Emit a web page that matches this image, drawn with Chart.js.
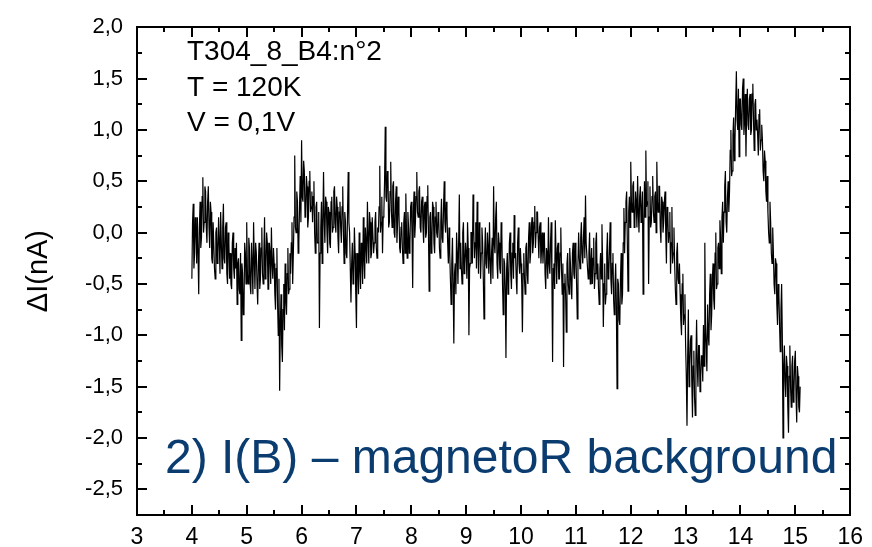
<!DOCTYPE html>
<html>
<head>
<meta charset="utf-8">
<title>ΔI(B) – magnetoR background</title>
<script src="https://cdn.jsdelivr.net/npm/chart.js@4.4.1/dist/chart.umd.min.js"></script>
<style>
  html, body { margin: 0; padding: 0; background: #fff; }
  canvas { display: block; }
</style>
</head>
<body>
<canvas id="chart" width="872" height="547"></canvas>
<script>
// Magnetic field sweep: B starts at 4.0 T and is sampled every 0.0125 T
const fieldStart = 4.0;
const fieldStep = 0.0125;

// ΔI (nA), one array per tesla of the sweep (80 samples each, 8 per 0.1 T)
const dI_B4 = [
  -0.45, 0.1, 0.28, -0.35, -0.2, 0.15, 0.05, -0.3,
  0.15, -0.2, -0.6, 0.05, 0.3, -0.15, -0.05, 0.35,
  0.54, 0.0, 0.1, 0.45, 0.4, 0.05, -0.1, 0.3,
  0.45, 0.05, -0.15, 0.3, 0.2, -0.25, -0.3, 0.1,
  0.1, -0.35, -0.45, 0.0, 0.05, -0.3, -0.2, 0.15,
  -0.1, -0.4, 0.2, -0.1, -0.35, 0.05, 0.28, -0.25,
  -0.3, 0.05, 0.1, -0.4, -0.5, 0.0, -0.1, -0.45,
  -0.2, -0.5, -0.55, -0.1, 0.0, -0.35, -0.45, -0.15,
  -0.35, -0.1, -0.7, -0.3, -0.25, -0.55, -0.6, -0.2,
  -1.05, -0.3, -0.4, -0.8, -0.75, -0.1, -0.2, -0.5
];
const dI_B5 = [
  0.1, -0.4, -0.5, -0.05, -0.15, -0.5, -0.6, -0.1,
  -0.3, -0.6, 0.1, -0.25, -0.55, -0.1, -0.2, -0.5,
  -0.7, -0.3, -0.1, -0.55, -0.45, -0.15, 0.05, -0.4,
  -0.5, -0.2, 0.15, -0.45, -0.35, 0.0, -0.1, -0.55,
  -0.55, -0.1, -0.2, -0.5, 0.05, -0.3, -0.45, -0.15,
  -0.3, -0.6, -0.75, -0.35, -0.15, -0.7, -1.0, -0.45,
  -1.54, -0.9, -0.6, -1.1, -1.26, -0.75, -0.5, -0.95,
  -0.3, -0.65, -0.8, -0.4, -0.15, -0.6, -0.55, -0.2,
  -0.4, -0.1, 0.1, -0.5, -0.2, 0.15, 0.75, 0.05,
  0.0, 0.4, 0.3, -0.2, -0.1, 0.25, 0.55, 0.1
];
const dI_B6 = [
  0.9, 0.35, 0.3, 0.7, 0.6, 0.15, 0.2, 0.55,
  0.45, 0.05, 0.15, 0.5, 0.6, 0.2, 0.25, 0.4,
  0.1, 0.35, 0.5, 0.0, -0.2, 0.25, 0.3, -0.1,
  -0.1, 0.2, -0.93, -0.2, 0.05, 0.3, -0.3, 0.1,
  0.59, 0.1, -0.1, 0.35, 0.3, 0.0, -0.2, 0.25,
  0.2, -0.1, -0.15, 0.3, 0.35, 0.0, 0.05, 0.4,
  0.45, 0.1, 0.0, 0.35, 0.25, -0.05, -0.2, 0.2,
  0.3, 0.05, -0.1, 0.25, 0.45, 0.0, -0.3, 0.2,
  0.1, -0.2, -0.25, 0.2, 0.59, 0.1, 0.0, -0.35,
  -0.68, -0.3, -0.1, -0.5, -0.4, 0.05, -0.2, -0.6
];
const dI_B7 = [
  -0.93, -0.2, -0.3, -0.6, 0.0, -0.35, -0.55, -0.1,
  -0.2, -0.5, 0.15, -0.25, -0.45, 0.05, -0.1, -0.3,
  0.3, -0.05, -0.3, 0.2, 0.1, -0.25, -0.2, 0.15,
  0.15, -0.2, -0.1, 0.1, 0.2, -0.15, -0.25, 0.05,
  0.0, 0.25, 0.65, 0.0, 0.1, 0.35, -0.2, 0.15,
  0.2, 0.5, 1.03, 0.35, 0.3, 0.6, 0.55, 0.05,
  0.1, 0.4, 0.69, 0.2, 0.05, 0.45, 0.5, 0.0,
  -0.05, 0.3, 0.45, -0.1, 0.1, 0.35, 0.2, -0.15,
  -0.2, 0.05, 0.1, -0.15, -0.3, 0.1, 0.2, -0.2,
  0.38, 0.0, -0.25, 0.2, 0.05, -0.2, -0.1, 0.25
];
const dI_B8 = [
  0.3, 0.0, -0.54, 0.2, 0.4, -0.05, 0.1, 0.35,
  0.59, 0.2, 0.15, 0.4, 0.45, 0.05, 0.0, 0.3,
  0.35, 0.05, -0.1, 0.25, 0.3, -0.05, 0.0, 0.35,
  0.46, 0.0, -0.57, 0.15, 0.2, -0.2, -0.1, 0.3,
  0.25, -0.1, -0.2, 0.15, 0.3, 0.0, -0.05, 0.2,
  0.15, -0.15, -0.25, 0.1, 0.33, -0.05, -0.1, 0.25,
  0.5, 0.1, 0.0, 0.3, 0.2, -0.1, -0.3, 0.05,
  -0.2, -0.45, -0.7, -0.3, -0.05, -0.5, -1.08, -0.4,
  -0.3, -0.6, 0.0, -0.2, -0.5, -0.1, 0.37, -0.35,
  -0.1, -0.35, -0.5, 0.0, 0.1, -0.4, -0.3, -0.1
];
const dI_B9 = [
  -0.2, -0.45, 0.1, -0.15, -1.0, -0.35, -0.3, 0.0,
  0.0, -0.3, 0.37, 0.05, -0.25, -0.1, 0.1, -0.35,
  0.3, -0.1, -0.4, 0.1, 0.0, -0.45, -0.2, 0.05,
  -0.1, -0.45, -0.84, -0.2, 0.05, -0.3, -0.35, 0.0,
  -0.15, -0.4, 0.1, -0.25, -0.5, -0.2, -0.05, -0.45,
  0.45, -0.1, -0.2, 0.15, 0.3, -0.3, -0.45, 0.0,
  -0.1, -0.35, -0.4, 0.1, 0.0, -0.5, -0.8, -0.25,
  -0.3, -0.55, -1.22, -0.35, -0.2, -0.6, -0.5, -0.1,
  0.0, -0.4, -0.55, -0.2, -0.1, -0.45, 0.17, -0.25,
  -0.2, -0.45, -0.6, -0.1, 0.05, -0.3, -0.4, -0.15
];
const dI_B10 = [
  -0.3, -0.5, -0.97, -0.4, -0.2, -0.45, -0.6, -0.15,
  -0.1, -0.4, -0.5, -0.05, 0.1, -0.3, -0.2, 0.05,
  0.15, -0.2, -0.1, 0.1, 0.26, -0.15, 0.0, 0.2,
  0.2, -0.05, -0.25, 0.05, 0.1, -0.3, -0.15, 0.0,
  -0.3, -0.1, 0.0, -0.4, -0.55, -0.15, -0.2, -0.45,
  0.15, -0.3, -0.4, -0.1, 0.1, -0.45, -1.26, -0.35,
  -0.3, -0.55, 0.12, -0.2, -0.5, -0.15, -0.1, -0.45,
  -0.45, -0.2, 0.05, -0.35, -0.6, -0.3, -1.31, -0.5,
  -0.4, -0.6, -0.97, -0.3, -0.2, -0.5, -0.6, -0.15,
  -0.3, -0.5, -0.65, -0.2, -0.1, -0.4, -0.45, -0.1
];
const dI_B11 = [
  -0.2, -0.5, -0.84, -0.3, 0.0, -0.25, -0.35, -0.05,
  0.1, -0.2, -0.3, -0.05, 0.15, -0.25, 0.36, -0.1,
  -0.1, -0.35, -0.45, -0.2, 0.0, -0.5, -0.3, -0.15,
  -0.5, -0.25, -0.05, -0.55, -0.4, -0.1, 0.0, -0.45,
  -0.3, -0.55, -0.7, -0.35, -0.2, -0.45, 0.08, -0.3,
  -0.92, -0.5, -0.3, -0.7, -0.6, -0.2, 0.0, -0.45,
  -0.4, -0.15, 0.1, -0.45, -0.6, -0.3, -0.2, -0.65,
  -0.8, -0.5, -0.3, -0.7, -1.52, -0.45, -0.5, -0.85,
  -0.9, -0.45, -0.2, -0.7, -0.6, -0.1, 0.24, -0.2,
  0.1, 0.3, 0.4, -0.1, -0.57, 0.2, 0.35, 0.05
];
const dI_B12 = [
  0.69, 0.3, 0.2, 0.45, 0.5, 0.05, 0.1, 0.4,
  0.3, 0.05, 0.55, 0.2, 0.0, 0.35, 0.45, 0.1,
  0.2, 0.4, -0.6, 0.05, 0.5, 0.15, 0.8, 0.25,
  0.3, 0.5, -0.5, 0.15, 0.45, 0.05, 0.1, 0.35,
  0.55, 0.2, 0.1, 0.35, 0.4, 0.0, 0.69, 0.3,
  0.2, 0.45, 0.45, 0.05, -0.1, 0.35, 0.3, 0.0,
  0.1, 0.3, 0.4, 0.0, -0.3, 0.25, 0.2, -0.1,
  0.0, 0.2, -0.4, -0.1, 0.25, -0.3, -0.2, 0.05,
  -0.3, -0.55, -0.7, -0.2, -0.1, -0.45, -0.5, -0.3,
  -0.6, -0.85, -1.0, -0.5, -0.4, -0.9, -0.8, -0.6
];
const dI_B13 = [
  -1.1, -1.4, -1.88, -1.2, -0.75, -1.5, -1.3, -1.05,
  -1.0, -1.45, -1.8, -1.3, -1.15, -1.6, -1.78, -1.25,
  -0.85, -1.3, -1.5, -1.1, -1.1, -1.55, -1.4, -1.2,
  -1.2, -1.45, -0.9, -1.3, -0.1, -0.9, -1.1, -1.35,
  -0.7, -1.0, -1.1, -0.6, -0.4, -0.95, -0.8, -0.45,
  -0.3, -0.65, -0.75, -0.2, 0.0, -0.55, -0.5, -0.15,
  -0.1, -0.35, 0.12, -0.05, -0.4, 0.15, 0.3, -0.1,
  0.2, 0.45, 0.6, 0.1, 0.0, 0.35, 0.5, 0.2,
  0.4, 0.8, 1.0, 0.55, 0.6, 0.95, 1.12, 0.7,
  0.9, 1.25, 1.57, 1.1, 1.0, 1.4, 0.74, 1.3
];
const dI_B14 = [
  1.3, 1.05, 1.0, 1.4, 1.5, 0.95, 1.1, 1.35,
  0.74, 1.2, 1.4, 1.05, 1.0, 1.3, 1.35, 0.95,
  1.0, 1.35, 1.45, 1.1, 0.8, 1.25, 1.3, 1.0,
  1.1, 0.95, 0.75, 1.15, 1.2, 0.8, 0.9, 1.05,
  0.9, 0.6, 0.5, 0.8, 0.7, 0.4, 0.3, 0.55,
  0.2, 0.0, -0.1, 0.3, 0.1, -0.2, -0.3, 0.05,
  -0.2, -0.5, -0.6, -0.25, -0.3, -0.7, -0.9, -0.5,
  -0.6, -0.9, -1.16, -0.75, -0.5, -1.0, -2.0, -1.3,
  -1.1, -1.45, -1.6, -1.2, -1.3, -1.7, -1.95, -1.4,
  -1.1, -1.5, -1.7, -1.3, -1.2, -1.65, -1.55, -1.25
];
const dI_B15 = [
  -1.15, -1.6, -1.85, -1.3, -1.4, -1.7, -1.75, -1.5
];

// Axis ticks
const xMajorTicks = [3, 4, 5, 6, 7, 8, 9, 10, 11, 12, 13, 14, 15, 16];
const xMinorTicks = [3.5, 4.5, 5.5, 6.5, 7.5, 8.5, 9.5, 10.5, 11.5, 12.5, 13.5, 14.5, 15.5];
const yMajorTicks = [-2.5, -2.0, -1.5, -1.0, -0.5, 0.0, 0.5, 1.0, 1.5, 2.0];
const yMinorTicks = [-2.25, -1.75, -1.25, -0.75, -0.25, 0.25, 0.75, 1.25, 1.75];

// Sample annotations
const infoLines = ['T304_8_B4:n°2', 'T = 120K', 'V = 0,1V'];
const captionText = '2) I(B) – magnetoR background';

const dI = [].concat(dI_B4, dI_B5, dI_B6, dI_B7, dI_B8, dI_B9, dI_B10,
                     dI_B11, dI_B12, dI_B13, dI_B14, dI_B15);
const points = dI.map((v, i) => ({
  x: Math.round((fieldStart + i * fieldStep) * 10000) / 10000,
  y: v
}));

const FONT = '"Liberation Sans", Arial, Helvetica, sans-serif';
const commaDecimal = v => Number(v).toFixed(1).replace('.', ',');

// Closed 2px frame with inward major/minor ticks on all four sides
const frameTicks = {
  id: 'frameTicks',
  afterDraw(chart) {
    const ctx = chart.ctx;
    const a = chart.chartArea;
    const xs = chart.scales.x;
    const ys = chart.scales.y;
    const L = Math.round(a.left), R = Math.round(a.right);
    const T = Math.round(a.top), B = Math.round(a.bottom);
    ctx.save();
    ctx.fillStyle = '#000';
    ctx.fillRect(L - 1, T - 1, R - L + 2, 2);
    ctx.fillRect(L - 1, B - 1, R - L + 2, 2);
    ctx.fillRect(L - 1, T - 1, 2, B - T + 2);
    ctx.fillRect(R - 1, T - 1, 2, B - T + 2);
    const xt = (v, len) => {
      const p = Math.round(xs.getPixelForValue(v));
      ctx.fillRect(p - 1, B - len, 2, len);
      ctx.fillRect(p - 1, T, 2, len);
    };
    const yt = (v, len) => {
      const p = Math.round(ys.getPixelForValue(v));
      ctx.fillRect(L, p - 1, len, 2);
      ctx.fillRect(R - len, p - 1, len, 2);
    };
    xMajorTicks.forEach(v => xt(v, 10));
    xMinorTicks.forEach(v => xt(v, 5));
    yMajorTicks.forEach(v => yt(v, 10));
    yMinorTicks.forEach(v => yt(v, 5));

    // sample description and caption
    ctx.textBaseline = 'alphabetic';
    ctx.textAlign = 'left';
    ctx.font = '28px ' + FONT;
    infoLines.forEach((t, i) => ctx.fillText(t, 187, 60 + i * 35.5));
    ctx.fillStyle = '#0b3c70';
    ctx.font = '48px ' + FONT;
    ctx.fillText(captionText, 165, 473);
    ctx.restore();
  }
};

new Chart(document.getElementById('chart'), {
  type: 'line',
  data: {
    datasets: [{
      data: points,
      borderColor: '#000',
      borderWidth: 1.2,
      pointRadius: 0,
      tension: 0,
      fill: false
    }]
  },
  options: {
    responsive: false,
    animation: false,
    devicePixelRatio: 1,
    layout: { padding: { top: 15, right: 21, bottom: 0, left: 0 } },
    plugins: { legend: { display: false }, tooltip: { enabled: false } },
    scales: {
      x: {
        type: 'linear',
        min: 3,
        max: 16,
        afterBuildTicks: s => { s.ticks = xMajorTicks.map(v => ({ value: v })); },
        afterFit: s => { s.height = 32; },
        grid: { display: false, drawTicks: false },
        border: { display: false },
        ticks: {
          autoSkip: false,
          maxRotation: 0,
          padding: 9,
          color: '#000',
          font: { family: FONT, size: 23 },
          callback: v => String(v)
        }
      },
      y: {
        type: 'linear',
        min: -2.75,
        max: 2.0,
        afterBuildTicks: s => { s.ticks = yMajorTicks.map(v => ({ value: v })); },
        afterFit: s => { s.width = 137; },
        grid: { display: false, drawTicks: false },
        border: { display: false },
        title: {
          display: true,
          text: 'ΔI(nA)',
          color: '#000',
          font: { family: FONT, size: 29 },
          padding: { top: 22, bottom: 0 }
        },
        ticks: {
          autoSkip: false,
          padding: 14,
          color: '#000',
          font: { family: FONT, size: 22 },
          callback: v => commaDecimal(v)
        }
      }
    }
  },
  plugins: [frameTicks]
});
</script>
</body>
</html>
